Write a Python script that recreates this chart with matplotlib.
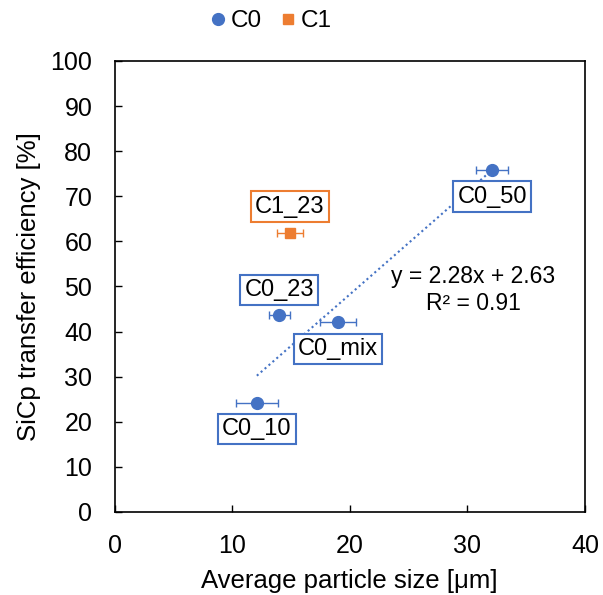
import matplotlib.pyplot as plt
from matplotlib.lines import Line2D
import numpy as np

plt.rcParams['font.family'] = ['Liberation Sans', 'DejaVu Sans']

# C0 series
c0_names = ["C0_10", "C0_23", "C0_mix", "C0_50"]
c0_size = [12.1, 14.0, 19.0, 32.1]
c0_size_err = [1.8, 0.9, 1.5, 1.4]
c0_eff = [24.1, 43.7, 42.2, 75.8]

# C1 series
c1_names = ["C1_23"]
c1_size = [14.9]
c1_size_err = [1.1]
c1_eff = [61.8]

# linear trend of C0
slope = 2.28
intercept = 2.63
r2 = 0.91

blue = "#4472C4"
orange = "#ED7D31"


def main():
    fig = plt.figure(figsize=(6.03, 5.95), dpi=100)
    ax = fig.add_axes([0.190, 0.1395, 0.780, 0.758])

    ax.errorbar(c0_size, c0_eff, xerr=c0_size_err, fmt='o', color=blue,
                markersize=8.5, elinewidth=1, capsize=3, capthick=1, zorder=3)
    ax.errorbar(c1_size, c1_eff, xerr=c1_size_err, fmt='s', color=orange,
                markersize=7.5, elinewidth=1, capsize=3, capthick=1, zorder=3)

    tx = np.array([min(c0_size), max(c0_size)])
    ax.plot(tx, slope * tx + intercept, linestyle=(0, (1, 1.5)), color=blue, linewidth=1.5, zorder=2)

    # label boxes: offset below or above the point
    offsets = {"C0_10": -5.7, "C0_23": 5.5, "C0_mix": -6.1, "C0_50": -5.9, "C1_23": 5.9}
    for names, xs, ys, col in [(c0_names, c0_size, c0_eff, blue), (c1_names, c1_size, c1_eff, orange)]:
        for n, x, y in zip(names, xs, ys):
            ax.text(x, y + offsets[n], n, ha='center', va='center', fontsize=17,
                    bbox=dict(boxstyle='square,pad=0.18', facecolor='white', edgecolor=col, linewidth=1.5),
                    zorder=4)

    ax.text(30.5, 52.2, f"y = {slope:.2f}x + {intercept:.2f}", ha='center', va='center', fontsize=16.5)
    ax.text(30.5, 46.3, f"R² = {r2:.2f}", ha='center', va='center', fontsize=16.5)

    ax.set_xlim(0, 40)
    ax.set_ylim(0, 100)
    ax.set_xticks(np.arange(0, 41, 10))
    ax.set_yticks(np.arange(0, 101, 10))
    ax.tick_params(direction='in', length=5, width=1, labelsize=18)
    ax.tick_params(axis='y', pad=16)
    ax.tick_params(axis='x', pad=16)
    for s in ax.spines.values():
        s.set_linewidth(1.2)
    ax.set_xlabel("Average particle size [μm]", fontsize=18.5, labelpad=8)
    ax.set_ylabel("SiCp transfer efficiency [%]", fontsize=18.5, labelpad=7)

    handles = [Line2D([], [], marker='o', color=blue, linestyle='none', markersize=8.5),
               Line2D([], [], marker='s', color=orange, linestyle='none', markersize=7.5)]
    fig.legend(handles, ["C0", "C1"], loc='center', bbox_to_anchor=(0.446, 0.964), ncol=2,
               frameon=False, fontsize=17.5, handletextpad=0.0, columnspacing=0.6, handlelength=1.0)

    plt.savefig("out.png", dpi=100)


if __name__ == "__main__":
    main()
